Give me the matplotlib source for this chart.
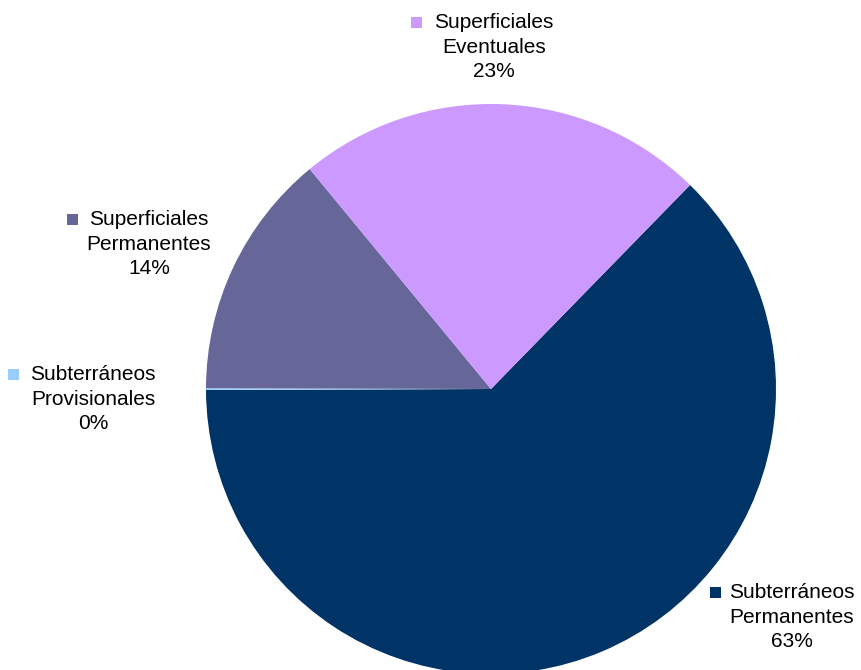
import matplotlib
matplotlib.use("Agg")
import matplotlib.pyplot as plt
from matplotlib.patches import Rectangle

plt.rcParams['font.family'] = ['Liberation Sans', 'DejaVu Sans']

# slices in drawing order (clockwise from the upper right)
names = ["Subterráneos\nPermanentes", "Subterráneos\nProvisionales",
         "Superficiales\nPermanentes", "Superficiales\nEventuales"]
values = [62.7, 0.1, 14.0, 23.3]
pct_labels = ["63%", "0%", "14%", "23%"]
colors = ["#003366", "#99CCFF", "#666699", "#CC99FF"]

W, H = 862, 670
fig = plt.figure(figsize=(W / 100, H / 100), dpi=100)

# pie centre (491, 389) px, radius 285 px
cx, cy, r = 491, 389, 285
ax = fig.add_axes([(cx - r) / W, (H - cy - r) / H, 2 * r / W, 2 * r / H])
ax.pie(values, colors=colors, startangle=45.7, counterclock=False,
       wedgeprops=dict(linewidth=0))
ax.set_aspect("equal")
ax.set_xlim(-1, 1)
ax.set_ylim(-1, 1)

# label positions: centre x of text block, y of first line, x of the key square
label_pos = [(792, 592, 716), (93, 374, 14), (149, 219, 73), (494, 22, 417)]

for name, pct, col, (lx, ly, sx) in zip(names, pct_labels, colors, label_pos):
    fig.text(lx / W, 1 - (ly - 9) / H, name + "\n" + pct, ha="center", va="top",
             fontsize=15, linespacing=1.37, color="black")
    fig.add_artist(Rectangle(((sx - 5.5) / W, 1 - (ly + 5.5) / H), 11 / W, 11 / H,
                             transform=fig.transFigure, color=col, lw=0))

fig.savefig("out.png", dpi=100, facecolor="white")
